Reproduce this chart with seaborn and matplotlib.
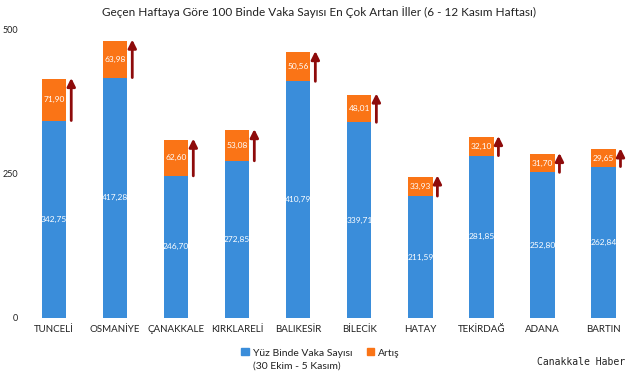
import matplotlib

matplotlib.use("Agg")

import matplotlib.pyplot as plt
import pandas as pd
import seaborn as sns
from matplotlib.patches import Patch

CITIES = ["TUNCELİ", "OSMANİYE", "ÇANAKKALE", "KIRKLARELİ", "BALIKESİR",
          "BİLECİK", "HATAY", "TEKİRDAĞ", "ADANA", "BARTIN"]
BASE = [342.75, 417.28, 246.70, 272.85, 410.79, 339.71, 211.59, 281.85, 252.80, 262.84]
INCREASE = [71.90, 63.98, 62.60, 53.08, 50.56, 48.01, 33.93, 32.10, 31.70, 29.65]
Y_TICKS = [0, 250, 500]

BLUE = "#3A8DDA"
ORANGE = "#FA7416"
ARROW = "#8E0B0B"


def fmt(v):
    return f"{v:.2f}".replace(".", ",")


def main():
    sns.set_theme(style="white")
    plt.rcParams["font.family"] = ["Lato", "DejaVu Sans"]

    df = pd.DataFrame({"city": CITIES, "base": BASE, "inc": INCREASE})
    df["total"] = df["base"] + df["inc"]

    fig = plt.figure(figsize=(6.39, 3.79), dpi=100)
    ax = fig.add_axes([0.037, 0.161, 0.955, 0.76])

    sns.barplot(data=df, x="city", y="total", color=ORANGE, saturation=1,
                width=0.4, edgecolor="none", ax=ax)
    sns.barplot(data=df, x="city", y="base", color=BLUE, saturation=1,
                width=0.4, edgecolor="none", ax=ax)

    for i, row in df.iterrows():
        ax.text(i, row["base"] / 2, fmt(row["base"]), ha="center", va="center",
                color="white", fontsize=6)
        ax.text(i, row["base"] + row["inc"] / 2, fmt(row["inc"]), ha="center",
                va="center", color="white", fontsize=6)
        ax.annotate("", xy=(i + 0.28, row["total"] + 2), xytext=(i + 0.28, row["base"]),
                    arrowprops=dict(arrowstyle="-|>,head_width=0.2,head_length=0.4",
                                    color=ARROW, lw=2, shrinkA=0, shrinkB=0))

    ax.set_ylim(0, 500)
    ax.set_xlim(-0.5, len(CITIES) - 0.5)
    ax.set_yticks(Y_TICKS)
    ax.set_xlabel("")
    ax.set_ylabel("")
    ax.tick_params(axis="both", length=0, colors="#222222")
    ax.tick_params(axis="y", labelsize=6.5, pad=4)
    ax.tick_params(axis="x", labelsize=7, pad=5)
    sns.despine(ax=ax, left=True, bottom=True)

    fig.suptitle("Geçen Haftaya Göre 100 Binde Vaka Sayısı En Çok Artan İller (6 - 12 Kasım Haftası)",
                 fontsize=8.5, x=0.5, y=0.985, color="#222222")

    handles = [Patch(color=BLUE), Patch(color=ORANGE)]
    leg = fig.legend(handles, ["Yüz Binde Vaka Sayısı\n(30 Ekim - 5 Kasım)", "Artış\n "],
                     loc="center", bbox_to_anchor=(0.502, 0.05), ncol=2, frameon=False,
                     fontsize=7.5, handlelength=0.7, handleheight=0.7, handletextpad=0.4,
                     columnspacing=1.4, labelcolor="#222222")
    for t in leg.get_texts():
        t.set_linespacing(1.45)
    # put the markers next to the first text line, as in the source
    for h in leg.legend_handles:
        h.set_y(h.get_y() + 6)

    fig.text(0.978, 0.045, "Canakkale Haber", ha="right", va="center",
             fontsize=7, family="DejaVu Sans Mono", color="#222222")

    fig.savefig("out.png", dpi=100)


if __name__ == "__main__":
    main()
